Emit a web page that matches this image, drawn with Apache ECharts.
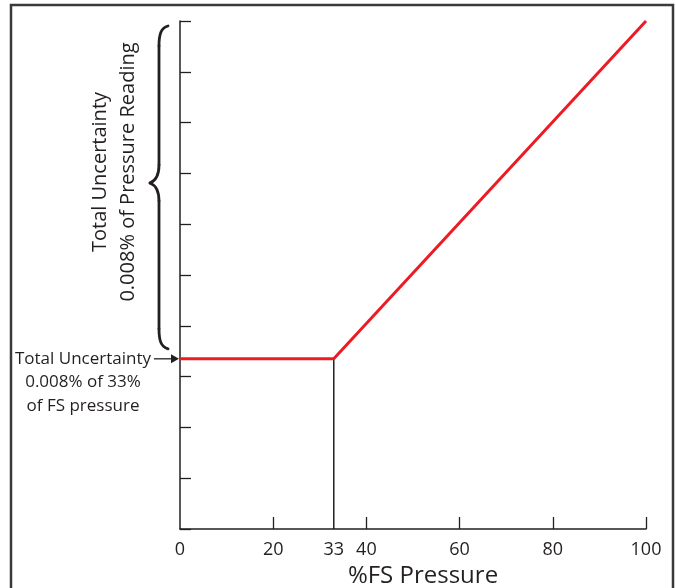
<!DOCTYPE html>
<html><head><meta charset="utf-8">
<script src="https://cdn.jsdelivr.net/npm/echarts@6/dist/echarts.min.js"></script>
<style>html,body{margin:0;padding:0;background:#fff}#c{width:676px;height:588px}</style>
</head><body><div id="c"></div>
<script>
const xTickValues = [20, 40, 60, 80, 100];
const xLabelValues = [0, 20, 33, 40, 60, 80, 100];
const uncertaintyPoints = [[0, 3.35], [33, 3.35], [100, 10]];
const kneeLine = [[33, 0], [33, 3.35]];
const yTitleLines = ['Total Uncertainty', '0.008% of Pressure Reading'];
const noteLines = ['Total Uncertainty', '0.008% of 33%', 'of FS pressure'];
const xName = '%FS Pressure';

const INK = '#231F20';
const FONT = '"Open Sans", "Liberation Sans", sans-serif';
const chart = echarts.init(document.getElementById('c'), null, {renderer: 'canvas'});
chart.setOption({
  animation: false,
  backgroundColor: '#fff',
  grid: {left: 180, right: 30, top: 21, bottom: 59, containLabel: false, outerBoundsMode: 'none'},
  xAxis: {
    type: 'value', min: 0, max: 100, interval: 20,
    name: xName, nameLocation: 'middle', nameGap: 31,
    nameTextStyle: {fontSize: 24, color: INK, fontFamily: FONT, padding: [0, 0, 0, 20]},
    axisLine: {lineStyle: {color: INK, width: 1.5}},
    axisTick: {inside: true, length: 12, customValues: xTickValues, lineStyle: {color: INK, width: 1.3}},
    axisLabel: {customValues: xLabelValues, fontSize: 18, color: INK, fontFamily: FONT, margin: 12},
    splitLine: {show: false}
  },
  yAxis: {
    type: 'value', min: 0, max: 10, interval: 1,
    axisLine: {show: true, lineStyle: {color: INK, width: 1.5}},
    axisTick: {show: true, inside: true, length: 11, lineStyle: {color: INK, width: 1.3}},
    axisLabel: {show: false},
    splitLine: {show: false}
  },
  series: [
    {type: 'line', data: kneeLine, symbol: 'none', lineStyle: {color: INK, width: 1.5}, z: 2},
    {type: 'line', data: uncertaintyPoints, symbol: 'none', lineStyle: {color: '#ED1C24', width: 3}, z: 3}
  ]
});

const yRed = chart.convertToPixel({gridIndex: 0}, [0, uncertaintyPoints[0][1]])[1];
const yTop = chart.convertToPixel({gridIndex: 0}, [0, 10])[1];
const xAx = chart.convertToPixel({gridIndex: 0}, [0, 0])[0];
const bTop = yTop + 5, bBot = yRed - 10, bMid = 183, xb = 159;
const braceStyle = {fill: null, stroke: INK, lineWidth: 2.8, lineCap: 'round'};
function bez(x1, y1, c1x, c1y, c2x, c2y, x2, y2) {
  return {type: 'bezierCurve', shape: {x1, y1, cpx1: c1x, cpy1: c1y, cpx2: c2x, cpy2: c2y, x2, y2}, style: braceStyle};
}
function seg(x1, y1, x2, y2) {
  return {type: 'line', shape: {x1, y1, x2, y2}, style: braceStyle};
}

const graphics = [
  {type: 'rect', shape: {x: 11, y: 5, width: 662, height: 610}, style: {fill: null, stroke: '#3a3a3a', lineWidth: 2.5}, silent: true},
  bez(xb + 9, bTop, xb + 2, bTop + 2, xb, bTop + 8, xb, bTop + 20),
  seg(xb, bTop + 20, xb, bMid - 18),
  bez(xb, bMid - 18, xb, bMid - 7, xb - 4, bMid - 2, xb - 9, bMid),
  bez(xb - 9, bMid, xb - 4, bMid + 2, xb, bMid + 7, xb, bMid + 18),
  seg(xb, bMid + 18, xb, bBot - 20),
  bez(xb, bBot - 20, xb, bBot - 8, xb + 2, bBot - 2, xb + 9, bBot),
  {type: 'line', shape: {x1: 154, y1: yRed, x2: xAx - 7, y2: yRed}, style: {stroke: INK, lineWidth: 1.3}},
  {type: 'polygon', shape: {points: [[xAx - 9, yRed - 4.5], [xAx - 1, yRed], [xAx - 9, yRed + 4.5]]}, style: {fill: INK}},
];
yTitleLines.forEach((t, i) => {
  graphics.push({type: 'text', x: 100 + i * 28, y: 172, rotation: Math.PI / 2,
    style: {text: t, font: `20px ${FONT}`, fill: INK, align: 'center', verticalAlign: 'middle'}});
});
noteLines.forEach((t, i) => {
  graphics.push({type: 'text', x: 83, y: yRed + i * 23.5,
    style: {text: t, font: `17px ${FONT}`, fill: INK, align: 'center', verticalAlign: 'middle'}});
});
chart.setOption({graphic: graphics});
</script></body></html>
